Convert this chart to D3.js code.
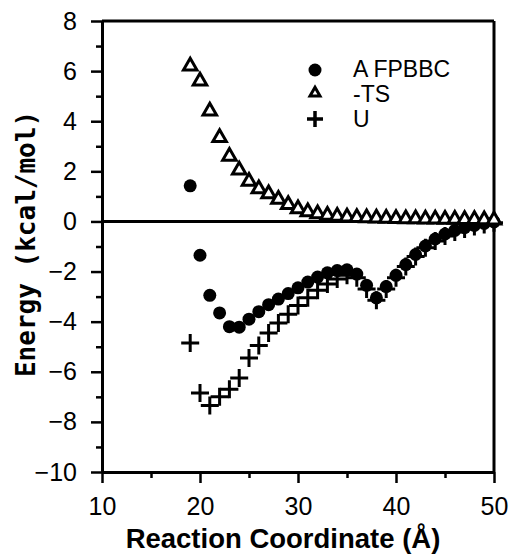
<!DOCTYPE html>
<html>
<head>
<meta charset="utf-8">
<script src="https://cdn.jsdelivr.net/npm/d3@7"></script>
<style>
  body { margin: 0; background: #fff; }
  text { font-family: "Liberation Sans", Arial, sans-serif; fill: #000; }
</style>
</head>
<body>
<div id="chart"></div>
<script>
// reaction coordinate (Å)
var coords = [19, 20, 21, 22, 23, 24, 25, 26, 27, 28, 29, 30, 31, 32, 33, 34,
              35, 36, 37, 38, 39, 40, 41, 42, 43, 44, 45, 46, 47, 48, 49, 50];
// A FPBBC
var fpbbc = [1.42, -1.35, -2.95, -3.65, -4.2, -4.22, -3.9, -3.6, -3.32, -3.1, -2.88, -2.65, -2.42, -2.22, -2.05, -1.96,
             -1.93, -2.1, -2.55, -3.05, -2.6, -2.15, -1.72, -1.32, -0.98, -0.7, -0.5, -0.36, -0.25, -0.16, -0.08, -0.02];
// -TS
var minusTS = [6.2, 5.6, 4.4, 3.35, 2.6, 2.05, 1.6, 1.3, 1.1, 0.88, 0.67, 0.5, 0.38, 0.3, 0.24, 0.2,
               0.17, 0.15, 0.14, 0.13, 0.12, 0.11, 0.1, 0.1, 0.09, 0.09, 0.08, 0.08, 0.07, 0.07, 0.06, 0.05];
// U
var energyU = [-4.85, -6.85, -7.35, -7.0, -6.7, -6.25, -5.45, -4.95, -4.45, -4.05, -3.7, -3.35, -3.05, -2.75, -2.5, -2.3,
               -2.15, -2.25, -2.7, -3.15, -2.7, -2.25, -1.8, -1.4, -1.05, -0.78, -0.58, -0.42, -0.3, -0.2, -0.12, -0.05];

var xTicks = [10, 20, 30, 40, 50];
var xMinor = [15, 25, 35, 45];
var yTicks = [-10, -8, -6, -4, -2, 0, 2, 4, 6, 8];
var yMinor = [-9, -7, -5, -3, -1, 1, 3, 5, 7];
var legendLabels = ["A FPBBC", "-TS", "U"];

var margin = {top: 21, right: 23, bottom: 85, left: 102};
var width = 517 - margin.left - margin.right;
var height = 557 - margin.top - margin.bottom;

var svg = d3.select("#chart")
  .append("svg")
  .attr("width", 517)
  .attr("height", 557)
  .append("g")
  .attr("transform", "translate(" + margin.left + "," + margin.top + ")");

var x = d3.scaleLinear().domain([10, 50]).range([0, width]);
var y = d3.scaleLinear().domain([-10, 8]).range([height, 0]);

function styleAxis(g) {
  g.select(".domain").attr("stroke-width", 3);
  g.selectAll(".tick line").attr("stroke-width", 2.5);
  g.selectAll("text").style("font-size", "25px").attr("font-family", "Liberation Sans, Arial, sans-serif");
}

// X axis
svg.append("g")
  .attr("transform", "translate(0," + height + ")")
  .call(d3.axisBottom(x).tickValues(xTicks).tickSize(11).tickSizeOuter(0).tickPadding(14).tickFormat(d3.format("d")))
  .call(styleAxis);
svg.append("g")
  .attr("transform", "translate(0," + height + ")")
  .call(d3.axisBottom(x).tickValues(xMinor).tickSize(6).tickSizeOuter(0).tickFormat(""))
  .call(styleAxis);

// Y axis
svg.append("g")
  .call(d3.axisLeft(y).tickValues(yTicks).tickSize(11).tickSizeOuter(0).tickPadding(14).tickFormat(d3.format("d")))
  .call(styleAxis);
svg.append("g")
  .call(d3.axisLeft(y).tickValues(yMinor).tickSize(6).tickSizeOuter(0).tickFormat(""))
  .call(styleAxis);

// frame top / right
svg.append("line")
  .attr("x1", x(10)).attr("x2", x(50)).attr("y1", y(8)).attr("y2", y(8))
  .attr("stroke", "#000").attr("stroke-width", 3);
svg.append("line")
  .attr("x1", x(50)).attr("x2", x(50)).attr("y1", y(8)).attr("y2", y(-10))
  .attr("stroke", "#000").attr("stroke-width", 3);

// zero line
svg.append("line")
  .attr("x1", x(10)).attr("x2", x(50)).attr("y1", y(0)).attr("y2", y(0))
  .attr("stroke", "#000").attr("stroke-width", 3);

// axis titles
svg.append("text")
  .attr("x", 283 - margin.left)
  .attr("y", 548 - margin.top)
  .attr("text-anchor", "middle")
  .style("font-size", "27.5px")
  .style("font-weight", "bold")
  .text("Reaction Coordinate (Å)");

svg.append("text")
  .attr("transform", "translate(" + (35 - margin.left) + "," + (244 - margin.top) + ") rotate(-90)")
  .attr("text-anchor", "middle")
  .style("font-family", "DejaVu Sans Mono, monospace")
  .style("font-size", "26px")
  .style("font-weight", "bold")
  .text("Energy (kcal/mol)");

function plusPath(cx, cy, r) {
  return "M" + (cx - r) + "," + cy + "H" + (cx + r) + "M" + cx + "," + (cy - r) + "V" + (cy + r);
}
function trianglePath(cx, cy, w) {
  var h = w * 0.87;
  return "M" + cx + "," + (cy - h * 2 / 3) + "L" + (cx + w / 2) + "," + (cy + h / 3) +
         "L" + (cx - w / 2) + "," + (cy + h / 3) + "Z";
}

// U crosses
svg.append("g").selectAll("path")
  .data(coords)
  .enter().append("path")
  .attr("d", function(d, i) { return plusPath(x(d), y(energyU[i]), 9); })
  .attr("stroke", "#000")
  .attr("stroke-width", 3)
  .attr("fill", "none");

// A FPBBC filled circles
svg.append("g").selectAll("circle")
  .data(coords)
  .enter().append("circle")
  .attr("cx", function(d) { return x(d); })
  .attr("cy", function(d, i) { return y(fpbbc[i]); })
  .attr("r", 6.5)
  .attr("fill", "#000");

// -TS open triangles
svg.append("g").selectAll("path")
  .data(coords)
  .enter().append("path")
  .attr("d", function(d, i) { return trianglePath(x(d), y(minusTS[i]), 13.5); })
  .attr("stroke", "#000")
  .attr("stroke-width", 3)
  .attr("fill", "#fff");

// Legend
var legX = 315 - margin.left;
var legText = 353 - margin.left;
svg.append("circle").attr("cx", legX).attr("cy", 70 - margin.top).attr("r", 6.5).attr("fill", "#000");
svg.append("path").attr("d", trianglePath(legX, 93 - margin.top, 10))
  .attr("stroke", "#000").attr("stroke-width", 3).attr("fill", "#fff");
svg.append("path").attr("d", plusPath(legX, 119 - margin.top, 8))
  .attr("stroke", "#000").attr("stroke-width", 3.5).attr("fill", "none");

var legBase = [77, 102, 127];
legendLabels.forEach(function(lab, i) {
  svg.append("text")
    .attr("x", legText)
    .attr("y", legBase[i] - margin.top)
    .style("font-size", "23px")
    .text(lab);
});
</script>
</body>
</html>
